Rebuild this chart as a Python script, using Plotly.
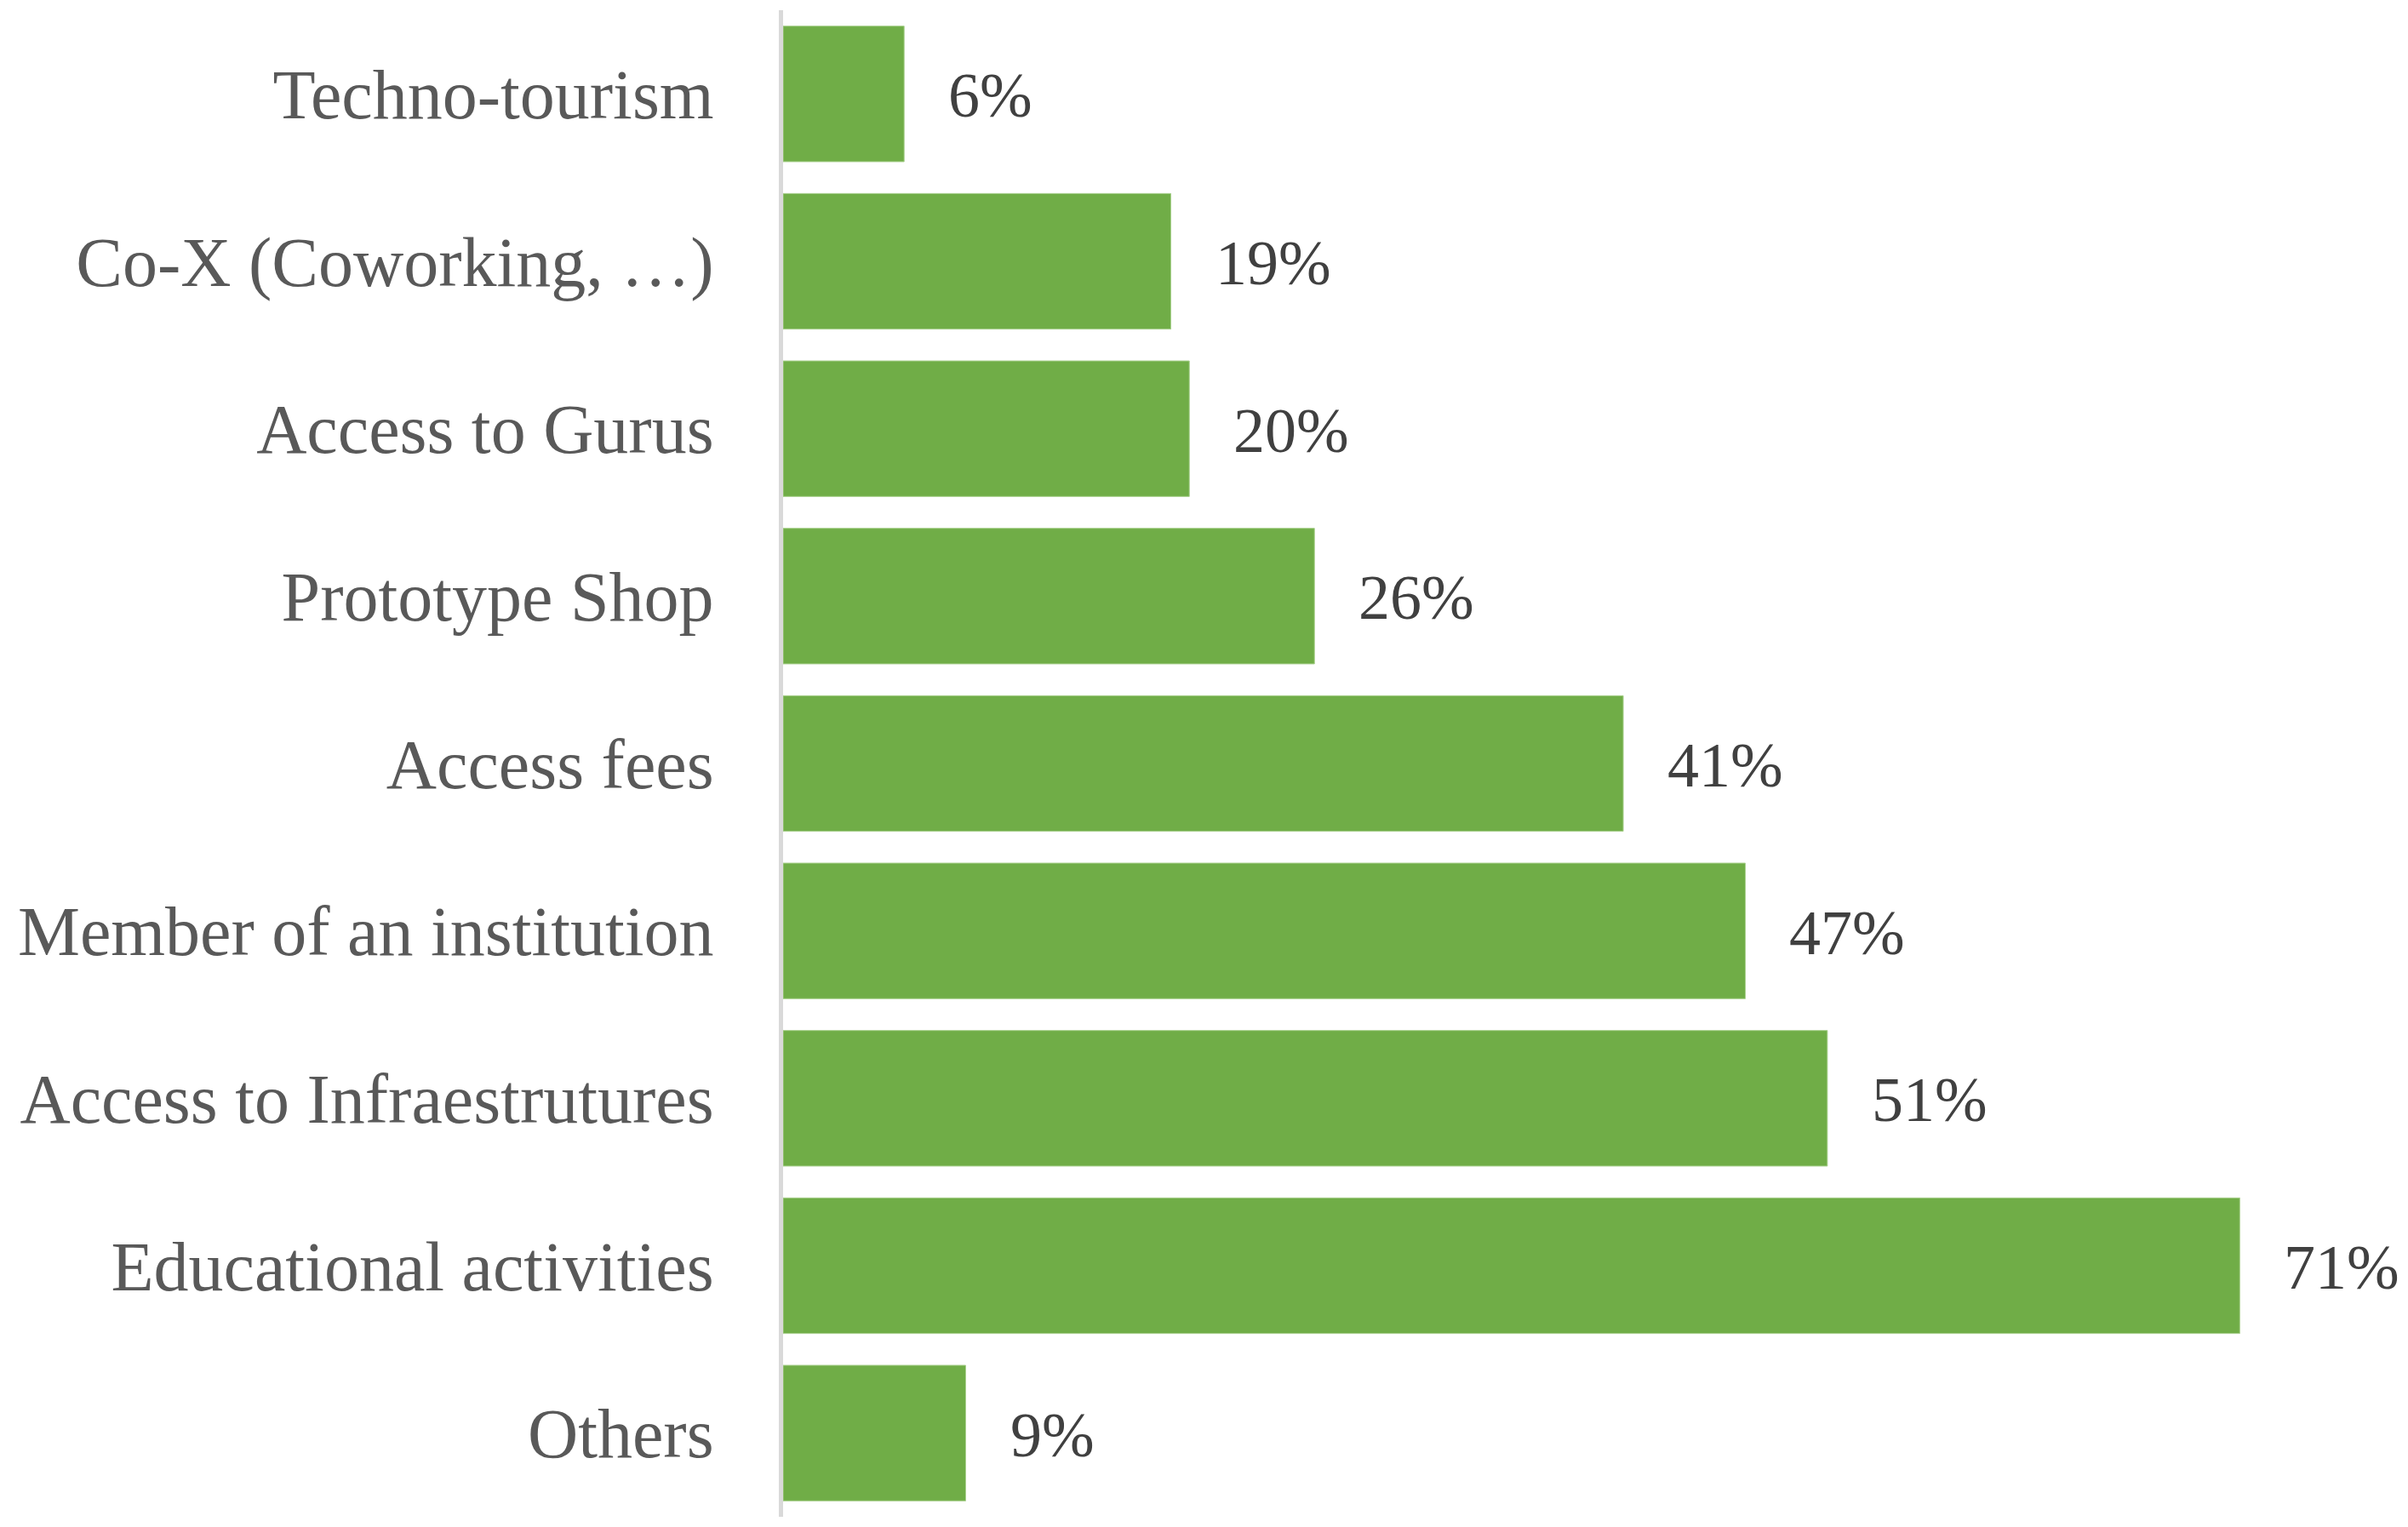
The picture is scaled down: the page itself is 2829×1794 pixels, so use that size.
import plotly.graph_objects as go

categories = ["Techno-tourism", "Co-X (Coworking, \u2026)", "Access to Gurus", "Prototype Shop",
              "Access fees", "Member of an institution", "Access to Infraestrutures",
              "Educational activities", "Others"]
values = [5.9, 18.9, 19.8, 25.9, 40.95, 46.9, 50.9, 71.0, 8.9]
labels = ["6%", "19%", "20%", "26%", "41%", "47%", "51%", "71%", "9%"]

FONT = "Liberation Serif"

fig = go.Figure(go.Bar(
    x=values, y=categories, orientation="h",
    marker=dict(color="#70AD47", line=dict(color="#a9d08e", width=1)),
    width=0.81, hoverinfo="skip",
))

for v, c, t in zip(values, categories, labels):
    fig.add_annotation(x=v, y=c, text=t, showarrow=False, xanchor="left", yanchor="middle",
                       xshift=50, yshift=-2, font=dict(family=FONT, size=74, color="#404040"))

fig.update_layout(
    width=2821, height=1786,
    margin=dict(l=912, r=0, t=4, b=12, autoexpand=False),
    plot_bgcolor="white", paper_bgcolor="white",
    showlegend=False,
    bargap=0.19,
)
fig.update_xaxes(range=[0, 79.2], visible=False, fixedrange=True)
fig.update_yaxes(
    autorange="reversed", showline=True, linewidth=5, linecolor="#d9d9d9",
    showgrid=False, ticks="", ticklabelstandoff=60, automargin=False,
    tickfont=dict(family=FONT, size=82, color="#595959"),
)

fig.write_html("out.html")
